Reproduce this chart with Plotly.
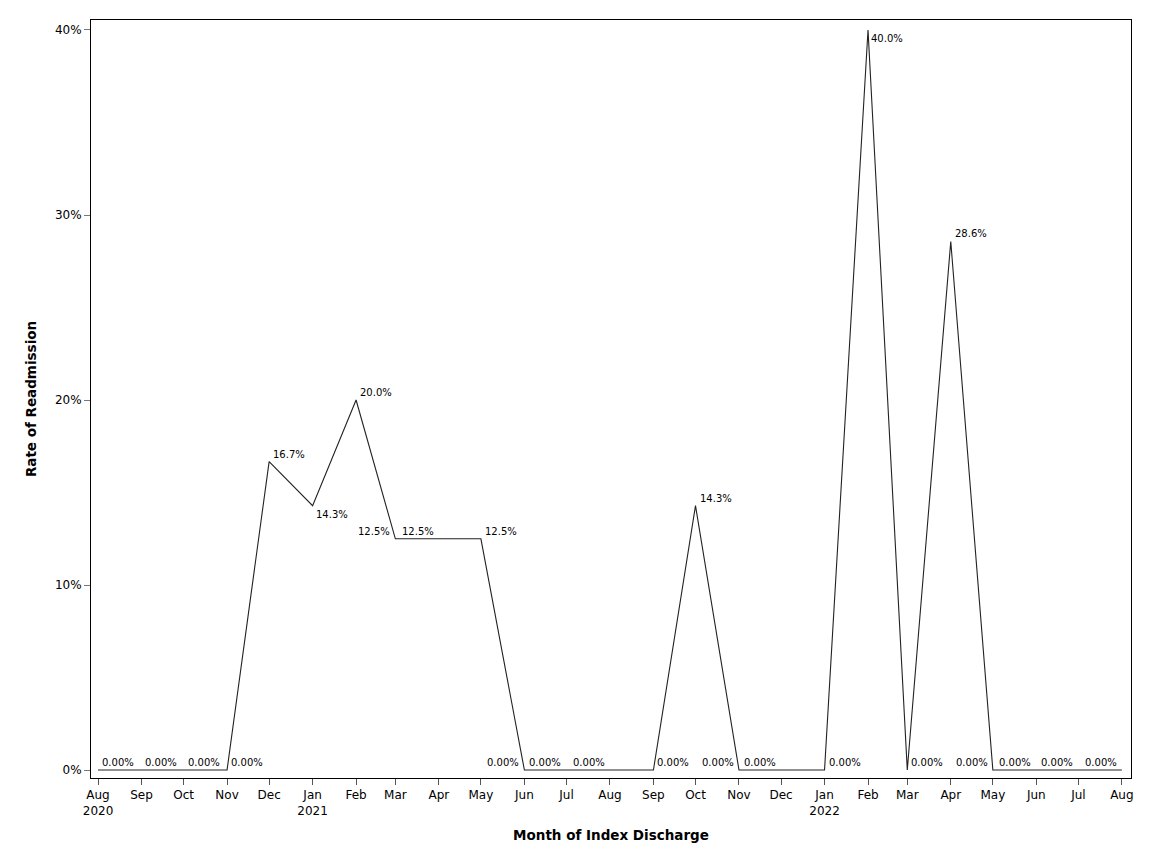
import plotly.graph_objects as go

# month of index discharge (first of month)
months = ["2020-08-01", "2020-09-01", "2020-10-01", "2020-11-01", "2020-12-01",
          "2021-01-01", "2021-02-01", "2021-03-01", "2021-04-01", "2021-05-01",
          "2021-06-01", "2021-07-01", "2021-08-01", "2021-09-01", "2021-10-01",
          "2021-11-01", "2021-12-01", "2022-01-01", "2022-02-01", "2022-03-01",
          "2022-04-01", "2022-05-01", "2022-06-01", "2022-07-01", "2022-08-01"]

# readmission rate (fraction)
rates = [0, 0, 0, 0, 0.1667,
         0.1429, 0.200, 0.125, 0.125, 0.125,
         0, 0, 0, 0, 0.1429,
         0, 0, 0, 0.400, 0,
         0.2857, 0, 0, 0, 0]

tick_text = ["Aug<br>2020", "Sep", "Oct", "Nov", "Dec",
             "Jan<br>2021", "Feb", "Mar", "Apr", "May",
             "Jun", "Jul", "Aug", "Sep", "Oct",
             "Nov", "Dec", "Jan<br>2022", "Feb", "Mar",
             "Apr", "May", "Jun", "Jul", "Aug"]

y_ticks = [0, 0.1, 0.2, 0.3, 0.4]


def pct_label(v):
    if v == 0:
        return "0.00%"
    return f"{v * 100:.1f}%"


labels = [pct_label(v) for v in rates]

# where each point label sits (avoids collisions like the original)
# R = above right, L = above left, BR = below right
label_pos = ["R", "R", "R", "R", "R", "BR", "R", "L", "L", "R",
             "L", "L", "L", "R", "R", "L", "L", "R", "BR", "R",
             "R", "L", "L", "L", "L"]

anchor = {
    "R": dict(xanchor="left", yanchor="bottom", xshift=2, yshift=0),
    "L": dict(xanchor="right", yanchor="bottom", xshift=-3, yshift=0),
    "BR": dict(xanchor="left", yanchor="top", xshift=1, yshift=-1),
}

font = "DejaVu Sans"

fig = go.Figure(go.Scatter(
    x=months,
    y=rates,
    mode="lines",
    line=dict(color="#222222", width=1.1),
    showlegend=False,
))

for m, v, t, p in zip(months, rates, labels, label_pos):
    fig.add_annotation(
        x=m, y=v, text=t, showarrow=False,
        font=dict(family=font, size=10, color="black"),
        **anchor[p]
    )

# page body adds an 8px offset, margins are set so the plot box lands
# on x 91-1131 / y 20-778 of the window
fig.update_layout(
    width=1152,
    height=864,
    margin=dict(l=83, r=29, t=12, b=94),
    plot_bgcolor="white",
    paper_bgcolor="white",
    font=dict(family=font, size=12, color="black"),
    xaxis=dict(
        type="date",
        range=["2020-07-27", "2022-08-07 12:00"],
        tickvals=months,
        ticktext=tick_text,
        ticks="outside",
        ticklen=6,
        tickcolor="#555555",
        showgrid=False,
        zeroline=False,
        showline=True,
        linecolor="black",
        linewidth=1,
        mirror=True,
        title=dict(text="<b>Month of Index Discharge</b>", font=dict(size=13.5), standoff=13),
    ),
    yaxis=dict(
        range=[-0.0043, 0.4054],
        tickvals=y_ticks,
        tickformat=".0%",
        ticks="outside",
        ticklen=6,
        tickcolor="#777777",
        showgrid=False,
        zeroline=False,
        showline=True,
        linecolor="black",
        linewidth=1,
        mirror=True,
        title=dict(text="<b>Rate of Readmission</b>", font=dict(size=13.5), standoff=15),
    ),
)

fig.write_html("out.html")
